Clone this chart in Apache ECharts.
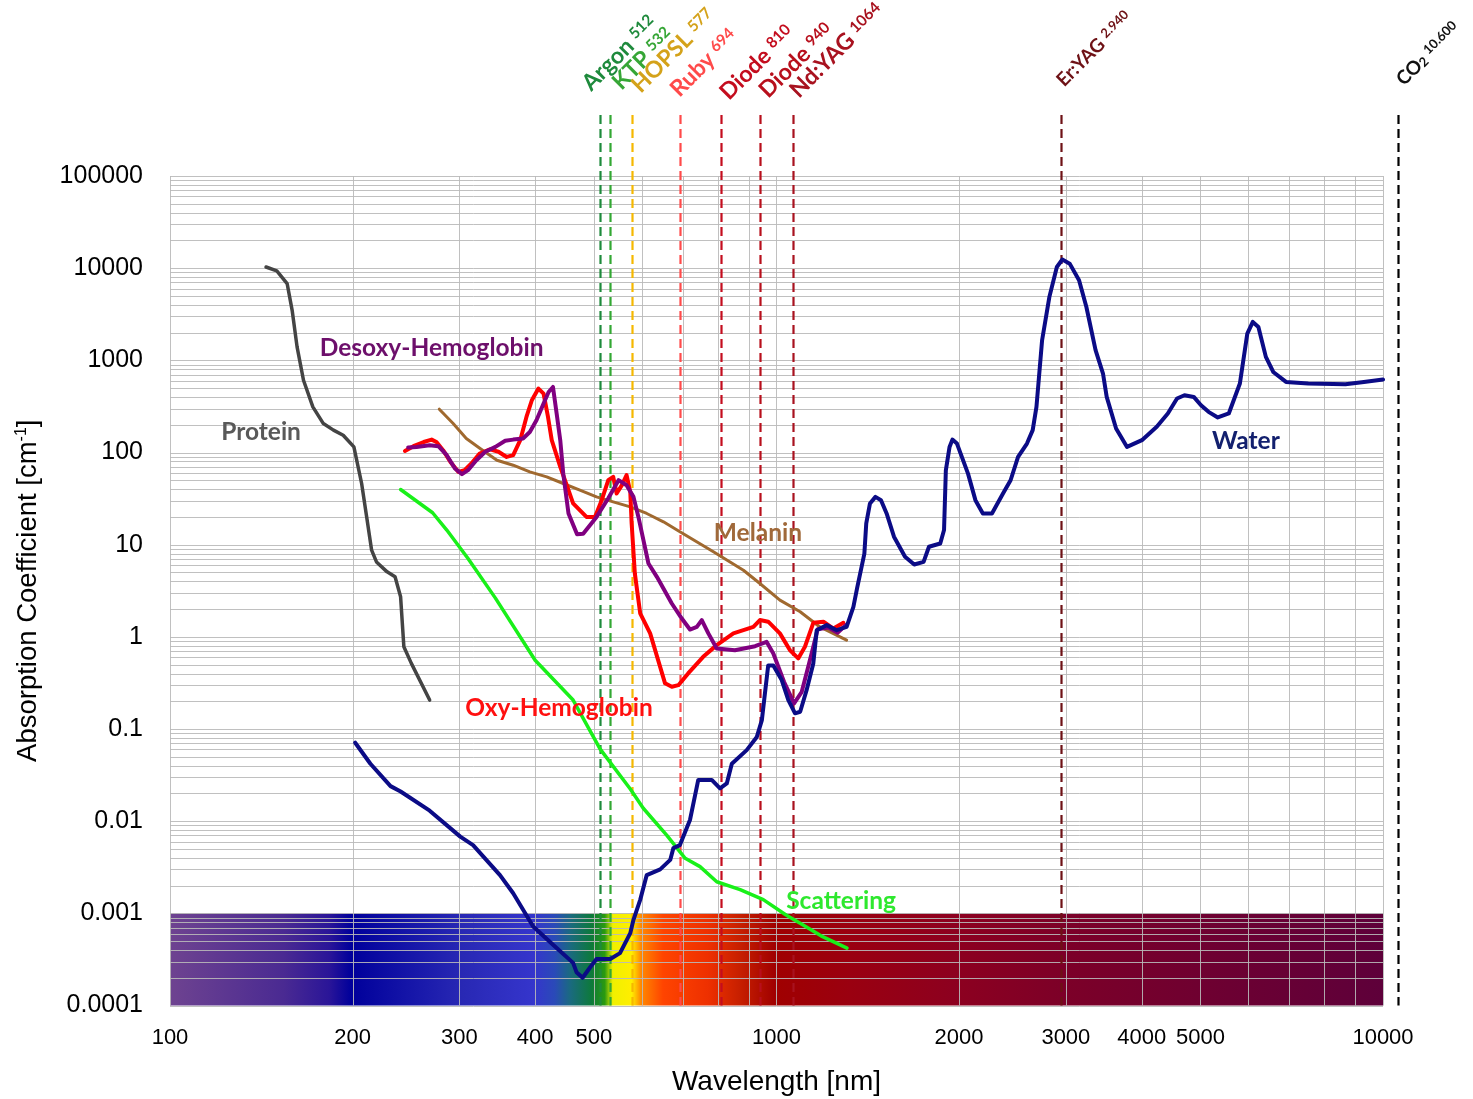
<!DOCTYPE html>
<html>
<head>
<meta charset="utf-8">
<title>Absorption spectra of tissue chromophores</title>
<script src="https://cdn.jsdelivr.net/npm/echarts@6/dist/echarts.min.js"></script>
<style>
  html, body { margin: 0; padding: 0; background: #ffffff; }
  #chart { width: 1473px; height: 1099px; }
</style>
</head>
<body>
<div id="chart"></div>
<script>
// ---- axis ranges and tick labels ----
const X_MIN = 100, X_MAX = 10000;
const Y_MIN = 0.0001, Y_MAX = 100000;
const BAND_TOP = 0.001;

const xTickValues = [100, 200, 300, 400, 500, 1000, 2000, 3000, 4000, 5000, 10000];
const xTickLabels = ['100', '200', '300', '400', '500', '1000', '2000', '3000', '4000', '5000', '10000'];
const yTickLabels = ['0.0001', '0.001', '0.01', '0.1', '1', '10', '100', '1000', '10000', '100000'];

// ---- absorption curves: [wavelength nm, coefficient cm^-1] ----
const waterData = [
  [202, 0.071], [214, 0.042], [231, 0.024], [240, 0.021], [268, 0.013], [301, 0.0068], [316, 0.0055],
  [350, 0.0026], [368, 0.00165], [397, 0.00072], [429, 0.00045], [462, 0.00029], [468, 0.00023],
  [479, 0.0002], [493, 0.00026], [505, 0.00032], [532, 0.00032], [552, 0.00037], [574, 0.00061],
  [581, 0.00085], [596, 0.0014], [611, 0.0026], [643, 0.003], [668, 0.0038], [676, 0.0051], [693, 0.0055],
  [720, 0.0103], [743, 0.028], [782, 0.028], [807, 0.0227], [828, 0.0257], [844, 0.042], [893, 0.059],
  [928, 0.082], [946, 0.125], [957, 0.243], [969, 0.49], [988, 0.49], [1020, 0.34], [1046, 0.206],
  [1073, 0.148], [1094, 0.154], [1121, 0.264], [1150, 0.515], [1165, 1.18], [1210, 1.34], [1257, 1.18],
  [1305, 1.28], [1339, 2.11], [1358, 3.37], [1396, 8.0], [1406, 17], [1426, 28], [1456, 33], [1487, 30.4],
  [1519, 21.8], [1562, 12.2], [1629, 7.4], [1687, 6.1], [1748, 6.5], [1784, 9.5], [1862, 10.3], [1889, 14.4],
  [1902, 64], [1929, 115], [1950, 138], [1984, 125], [2069, 59], [2128, 30.4], [2189, 21.8], [2266, 21.8],
  [2363, 35.9], [2432, 50], [2502, 89.5], [2588, 125], [2645, 175], [2683, 313], [2741, 1650], [2818, 4880],
  [2899, 10300], [2960, 12400], [3044, 11200], [3154, 7400], [3243, 3790], [3358, 1290], [3454, 719],
  [3503, 401], [3630, 182], [3784, 115], [4004, 136], [4236, 190], [4418, 265], [4575, 385], [4706, 418],
  [4875, 401], [5011, 326], [5156, 276], [5341, 240], [5569, 265], [5808, 560], [5974, 1950], [6100, 2610],
  [6231, 2300], [6410, 1090], [6592, 748], [6920, 583], [7530, 560], [8670, 550], [9300, 583], [10000, 620]
];

const oxyHbData = [
  [244, 104], [252, 117], [262, 130], [270, 138], [275, 130], [282, 106], [290, 79], [299, 61.6], [306, 64.3],
  [314, 76], [324, 97.5], [337, 108], [348, 102], [359, 89.5], [368, 93.5], [378, 136], [387, 243], [395, 369],
  [405, 494], [413, 436], [420, 243], [426, 136], [440, 69.8], [454, 39], [462, 28], [486, 20], [502, 20],
  [515, 30.4], [528, 50.1], [538, 54.4], [545, 35.9], [556, 44.2], [566, 56.8], [574, 37.4], [577, 17],
  [584, 4.88], [596, 1.8], [619, 1.09], [638, 0.558], [655, 0.313], [672, 0.287], [689, 0.299], [715, 0.401],
  [757, 0.607], [797, 0.813], [849, 1.09], [916, 1.28], [939, 1.52], [969, 1.46], [1013, 1.09], [1052, 0.718],
  [1086, 0.583], [1114, 0.78], [1150, 1.42], [1195, 1.46], [1241, 1.23], [1289, 1.42]
];

const deoxyHbData = [
  [247, 113], [255, 115], [268, 120], [277, 117], [286, 93.5], [295, 67], [303, 58.2], [310, 64.3], [320, 82.4],
  [331, 102], [344, 115], [357, 134], [368, 138], [382, 142], [392, 167], [402, 224], [413, 340], [421, 454],
  [428, 514], [434, 265], [440, 136], [445, 59.2], [454, 21.8], [469, 13], [480, 13.1], [505, 20], [528, 31.9],
  [549, 50.1], [566, 44.2], [581, 33], [592, 20], [615, 6.25], [635, 4.48], [672, 2.3], [698, 1.58], [720, 1.2],
  [739, 1.28], [753, 1.52], [772, 1.09], [797, 0.748], [854, 0.716], [922, 0.791], [963, 0.883], [988, 0.66],
  [1029, 0.325], [1069, 0.19], [1100, 0.251], [1128, 0.473], [1150, 0.78], [1169, 1.21], [1217, 1.26],
  [1261, 1.11], [1301, 1.34]
];

const melaninData = [
  [278, 295], [293, 206], [308, 142], [325, 110], [346, 82.4], [368, 72.8], [392, 61.6], [418, 54.4],
  [445, 46.1], [474, 39], [505, 33], [538, 29.1], [574, 25.7], [611, 21.8], [651, 17.7], [693, 13.8],
  [787, 8.36], [882, 5.28], [939, 3.79], [1013, 2.5], [1094, 1.87], [1179, 1.28], [1305, 0.92]
];

const proteinData = [
  [144, 10300], [150, 9330], [156, 6810], [159, 3490], [162, 1400], [166, 608], [172, 313], [179, 206],
  [186, 175], [193, 154], [201, 115], [207, 46.1], [211, 20], [215, 8.71], [219, 6.5], [228, 5.07],
  [235, 4.48], [240, 2.72], [243, 0.78], [250, 0.515], [268, 0.206]
];

const scatteringData = [
  [240, 39.7], [271, 22.2], [286, 14.4], [310, 7.08], [344, 2.63], [400, 0.558], [462, 0.206], [512, 0.0605],
  [574, 0.0223], [603, 0.0138], [659, 0.00706], [707, 0.00395], [748, 0.00321], [797, 0.0022], [871, 0.00181],
  [951, 0.00141], [1037, 0.00096], [1094, 0.00078], [1184, 0.00057], [1307, 0.00042]
];

// ---- laser lines ----
const laserNames = ['Argon', 'KTP', 'HOPSL', 'Ruby', 'Diode', 'Diode', 'Nd:YAG', 'Er:YAG', 'CO'];
const laserWavelengths = [512, 532, 577, 694, 810, 940, 1064, 2940, 10600];
const laserTags = ['512', '532', '577', '694', '810', '940', '1064', '2.940', '10.600'];

// ---- visible spectrum band colours [wavelength nm, colour] ----
const spectrumStops = [
  [100, '#6e4390'], [154, '#4a2a92'], [183, '#2a1598'], [199, '#00009b'], [303, '#2828b4'], [398, '#3535cc'],
  [431, '#2a4ab8'], [457, '#1a6a80'], [496, '#0d7a3a'], [521, '#2a9a10'], [537, '#f0f000'], [577, '#ffee00'],
  [598, '#ff8800'], [650, '#ff4400'], [771, '#ee3000'], [867, '#c82000'], [994, '#a00000'], [1322, '#9a0010'],
  [2000, '#8c0020'], [3000, '#7c0028'], [5573, '#6c0032'], [10000, '#5e003a']
];

// ---- styling ----
const LABEL_FONT = 'Lato, "Open Sans", sans-serif';
const AXIS_FONT = '"Liberation Sans", Arial, sans-serif';
const GRID_COLOR = 'rgba(185,185,185,0.9)';
const laserColors = ['#1e8a3c', '#33a833', '#f5b800', '#ff4a4a', '#c40d1e', '#b80f1c', '#a8121f', '#6e1216', '#000000'];
const laserTextColors = ['#1e8a3c', '#36a636', '#d4a21a', '#ff4a4a', '#c40d1e', '#b80f1c', '#a8121f', '#6e1216', '#111111'];
// label start relative to the line: [dx px, rise above plot top px]
const laserLabelOffsets = [[-6, 81], [14, 82], [12, 79], [2, 75], [11, 72], [11, 74], [9, 74], [6, 86], [8, 87]];
// [name size, number size]
const laserFontSizes = [[23, 15.5], [23, 15.5], [23, 15.5], [23, 15.5], [23, 15.5], [23, 15.5], [23, 15.5], [19, 13], [19, 13]];
const LASER_RISE = 61;

// curve captions, anchored in data units
const captions = [
  { text: 'Desoxy-Hemoglobin', at: [270, 1350], color: '#6d0f6b' },
  { text: 'Protein', at: [141.3, 166], color: '#595959' },
  { text: 'Water', at: [5943, 133], color: '#13206e' },
  { text: 'Melanin', at: [932, 13.3], color: '#a0693a' },
  { text: 'Oxy-Hemoglobin', at: [438, 0.169], color: '#ff1010' },
  { text: 'Scattering', at: [1278, 0.00136], color: '#2ee82e' }
];

// grid lines at every integer multiple inside each decade
const xGridValues = [];
for (let d = 100; d < X_MAX; d *= 10) for (let m = 1; m < 10; m++) xGridValues.push(d * m);
xGridValues.push(X_MAX);
const yGridValues = [];
for (let e = -4; e < 5; e++) for (let m = 1; m < 10; m++) yGridValues.push(parseFloat((m * Math.pow(10, e)).toPrecision(6)));
yGridValues.push(Y_MAX);

const chart = echarts.init(document.getElementById('chart'));

function bandItem(params, api) {
  const p0 = api.coord([X_MIN, BAND_TOP]);
  const p1 = api.coord([X_MAX, Y_MIN]);
  const w = p1[0] - p0[0];
  const stops = spectrumStops.map(s => ({
    offset: Math.min(1, Math.max(0, (api.coord([s[0], BAND_TOP])[0] - p0[0]) / w)),
    color: s[1]
  }));
  return {
    type: 'rect',
    shape: { x: p0[0], y: p0[1], width: w, height: p1[1] - p0[1] },
    style: { fill: new echarts.graphic.LinearGradient(0, 0, 1, 0, stops) }
  };
}

function hGridItem(params, api) {
  const v = api.value(1);
  const a = api.coord([X_MIN, v]);
  const b = api.coord([X_MAX, v]);
  const y = Math.round(a[1]) + 0.5;
  return { type: 'line', shape: { x1: a[0], y1: y, x2: b[0], y2: y }, style: { stroke: GRID_COLOR, lineWidth: 1 } };
}

function vGridItem(params, api) {
  const v = api.value(0);
  const a = api.coord([v, Y_MIN]);
  const b = api.coord([v, Y_MAX]);
  const x = Math.round(a[0]) + 0.5;
  return { type: 'line', shape: { x1: x, y1: b[1], x2: x, y2: a[1] }, style: { stroke: GRID_COLOR, lineWidth: 1 } };
}

function laserItem(params, api) {
  const i = api.value(2);
  const wl = api.value(0);
  const bottom = api.coord([wl, Y_MIN]);
  const top = api.coord([wl, Y_MAX]);
  const x = Math.round(bottom[0]) + 0.5;
  const off = laserLabelOffsets[i];
  const fs = laserFontSizes[i];
  const c = laserTextColors[i];
  const isCO2 = i === laserNames.length - 1;
  const text = isCO2
    ? '{n|' + laserNames[i] + '}{s|2} {v|' + laserTags[i] + '}'
    : '{n|' + laserNames[i] + '} {v|' + laserTags[i] + '}';
  return {
    type: 'group',
    children: [
      {
        type: 'line',
        shape: { x1: x, y1: top[1] - LASER_RISE, x2: x, y2: bottom[1] },
        style: { stroke: laserColors[i], lineWidth: 2.2, lineDash: [9, 5] }
      },
      {
        type: 'text',
        x: bottom[0] + off[0],
        y: top[1] - off[1],
        rotation: Math.PI / 4,
        style: {
          text: text,
          align: 'left',
          verticalAlign: 'bottom',
          fill: c,
          fontFamily: LABEL_FONT,
          fontWeight: 'bold',
          fontSize: fs[0],
          rich: {
            n: { fontFamily: LABEL_FONT, fontWeight: 'bold', fontSize: fs[0], fill: c },
            s: { fontFamily: LABEL_FONT, fontWeight: 'bold', fontSize: fs[1], fill: c, verticalAlign: 'bottom' },
            v: { fontFamily: LABEL_FONT, fontWeight: 'bold', fontSize: fs[1], fill: c, verticalAlign: 'top' }
          }
        }
      }
    ]
  };
}

function captionItem(params, api) {
  const cap = captions[api.value(2)];
  const p = api.coord([api.value(0), api.value(1)]);
  return {
    type: 'text',
    x: p[0], y: p[1],
    style: {
      text: cap.text, fill: cap.color, align: 'center', verticalAlign: 'middle',
      fontFamily: LABEL_FONT, fontWeight: 'bold', fontSize: 24.5
    }
  };
}

function xLabelItem(params, api) {
  const i = api.value(2);
  const p = api.coord([api.value(0), Y_MIN]);
  return {
    type: 'text',
    x: p[0], y: p[1] + 32,
    style: {
      text: xTickLabels[i], fill: '#000', align: 'center', verticalAlign: 'middle',
      fontFamily: AXIS_FONT, fontSize: 22
    }
  };
}

function curve(name, data, color, width, z) {
  return {
    name: name, type: 'line', data: data, z: z,
    showSymbol: false, symbol: 'none', silent: true,
    lineStyle: { color: color, width: width, cap: 'round', join: 'round' }
  };
}

chart.setOption({
  animation: false,
  backgroundColor: '#ffffff',
  textStyle: { fontFamily: AXIS_FONT },
  grid: { left: 170, right: 90, top: 176, bottom: 93.5, containLabel: false, outerBoundsMode: 'none' },
  xAxis: {
    type: 'log', logBase: 10, min: X_MIN, max: X_MAX,
    axisLine: { show: false }, axisTick: { show: false }, splitLine: { show: false },
    axisLabel: { show: false },
    name: 'Wavelength [nm]', nameLocation: 'middle', nameGap: 63,
    nameTextStyle: { fontFamily: AXIS_FONT, fontSize: 28, color: '#000' }
  },
  yAxis: {
    type: 'log', logBase: 10, min: Y_MIN, max: Y_MAX, splitNumber: 9,
    axisLine: { show: false }, axisTick: { show: false }, splitLine: { show: false },
    axisLabel: {
      fontFamily: AXIS_FONT, fontSize: 25, color: '#000', margin: 27,
      formatter: v => yTickLabels[Math.round(Math.log10(v)) + 4]
    },
    name: 'Absorption Coefficient [cm{sup|-1}]', nameLocation: 'middle', nameRotate: 90, nameGap: 128,
    nameTextStyle: {
      fontFamily: AXIS_FONT, fontSize: 27.5, color: '#000',
      rich: { sup: { fontFamily: AXIS_FONT, fontSize: 16, color: '#000', verticalAlign: 'top' } }
    }
  },
  series: [
    { type: 'custom', name: 'spectrum', z: 1, silent: true, renderItem: bandItem, data: [[X_MIN, BAND_TOP]] },
    { type: 'custom', name: 'hgrid', z: 2, silent: true, renderItem: hGridItem, data: yGridValues.map(v => [X_MIN, v]) },
    { type: 'custom', name: 'vgrid', z: 2, silent: true, renderItem: vGridItem, data: xGridValues.map(v => [v, Y_MIN]) },
    { type: 'custom', name: 'lasers', z: 3, silent: true, clip: false, renderItem: laserItem,
      data: laserWavelengths.map((w, i) => [w, Y_MIN, i]) },
    curve('Melanin', melaninData, '#a0692f', 3, 4),
    curve('Scattering', scatteringData, '#19f019', 3.5, 4),
    curve('Protein', proteinData, '#444444', 3.5, 4),
    curve('Oxy-Hemoglobin', oxyHbData, '#ff0000', 4, 5),
    curve('Desoxy-Hemoglobin', deoxyHbData, '#800080', 4, 5),
    curve('Water', waterData, '#0b0b86', 4, 6),
    { type: 'custom', name: 'captions', z: 7, silent: true, clip: false, renderItem: captionItem,
      data: captions.map((c, i) => [c.at[0], c.at[1], i]) },
    { type: 'custom', name: 'xlabels', z: 7, silent: true, clip: false, renderItem: xLabelItem,
      data: xTickValues.map((v, i) => [v, Y_MIN, i]) }
  ]
});
</script>
</body>
</html>
